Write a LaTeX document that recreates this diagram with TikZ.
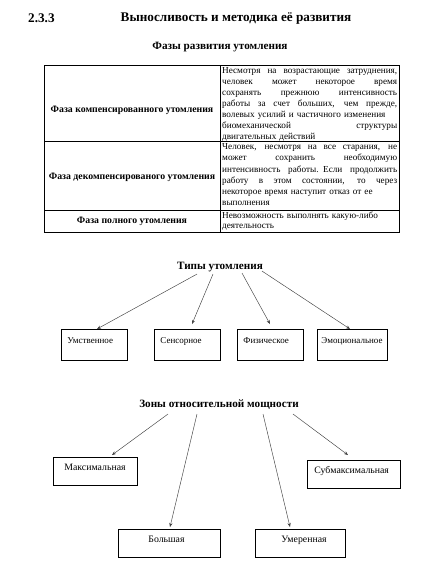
\documentclass[tikz,border=0pt]{standalone}
\usepackage{fontspec}
\setmainfont{Liberation Serif}
\usetikzlibrary{arrows.meta,calc}
\newcommand{\jl}[1]{\leavevmode\hbox to 175pt{\spaceskip=0.2em plus 1fil\relax #1}}
\begin{document}
\begin{tikzpicture}[x=1pt,y=-1pt,
  heading/.style={font=\bfseries\fontsize{13.2}{15}\selectfont,inner sep=0pt},
  subhead/.style={font=\bfseries\fontsize{11.2}{13}\selectfont,inner sep=0pt},
  celltext/.style={font=\fontsize{9.2}{11}\selectfont,inner sep=0pt,anchor=north west,align=left,text width=176pt},
  phase/.style={font=\bfseries\fontsize{9.8}{11}\selectfont,inner sep=0pt},
  grid/.style={draw=black,line width=0.8pt},
  typebox/.style={draw=black,line width=0.8pt,anchor=north west,inner xsep=6pt,inner ysep=0pt,
     align=left,font=\fontsize{9}{10}\selectfont,text height=13.8pt,text depth=17.2pt},
  zonebox/.style={draw=black,line width=0.8pt,anchor=north west,inner ysep=0pt,
     align=left,font=\fontsize{9.8}{10}\selectfont,text height=12.8pt,text depth=15.2pt},
  arr/.style={draw=black!75,line width=0.45pt,-{Stealth[length=4pt,width=3.2pt]}}]
\useasboundingbox (0,0) rectangle (429,571);
\fill[white] (0,0) rectangle (429,571);

% headings
\node[heading,anchor=west] (num) at (28,18) {2.3.3};
\node[heading] (title) at (236,18) {Выносливость и методика её развития};
\node[subhead] (phases) at (220,47) {Фазы развития утомления};

% table grid
\draw[grid] (44,65) rectangle (399,232);
\draw[grid] (220,65) -- (220,232);
\draw[grid] (44,141) -- (399,141);
\draw[grid] (44,210) -- (399,210);

\node[phase] (p1) at (132,110) {Фаза компенсированного утомления};
\node[phase] (p2) at (132,177) {Фаза декомпенсированого утомления};
\node[phase] (p3) at (132,221) {Фаза полного утомления};

\node[celltext] (d1) at (222,67.5) {\jl{Несмотря на возрастающие затруднения,}\\
\jl{человек может некоторое время}\\
\jl{сохранять прежнюю интенсивность}\\
\jl{работы за счет больших, чем прежде,}\\
волевых усилий и частичного изменения\\
\jl{биомеханической структуры}\\
двигательных действий};
\node[celltext,font=\fontsize{9.2}{11.2}\selectfont] (d2) at (222,143.5) {\jl{Человек, несмотря на все старания, не}\\
\jl{может сохранить необходимую}\\
\jl{интенсивность работы. Если продолжить}\\
\jl{работу в этом состоянии, то через}\\
некоторое время наступит отказ от ее\\
выполнения};
\node[celltext,font=\fontsize{9.2}{9.8}\selectfont] (d3) at (222,212) {Невозможность выполнять какую-либо\\
деятельность};

% types of fatigue
\node[subhead] (types) at (220,267) {Типы утомления};
\node[typebox,text width=54pt] (t1) at (61,329) {Умственное};
\node[typebox,text width=54pt] (t2) at (154,329) {Сенсорное};
\node[typebox,text width=54pt] (t3) at (237,329) {Физическое};
\node[typebox,inner xsep=4pt,text width=62pt] (t4) at (317,329) {Эмоциональное};

\draw[arr] ($(types.south)+(-23,2)$) -- ($(t1.north west)+(36,0)$);
\draw[arr] ($(types.south)+(-7,2)$) -- ($(t2.north west)+(38,-5)$);
\draw[arr] ($(types.south)+(22,1)$) -- ($(t3.north west)+(33,-5)$);
\draw[arr] ($(types.south)+(42,-1)$) -- ($(t4.north west)+(33,0)$);

% zones of relative power
\node[subhead] (zones) at (219,405) {Зоны относительной мощности};
\node[zonebox,inner xsep=11pt,text width=62pt] (z1) at (53,457) {Максимальная};
\node[zonebox,inner xsep=7pt,text width=79pt] (z4) at (307,460) {Субмаксимальная};
\node[zonebox,inner xsep=30pt,text width=42pt] (z2) at (118,529) {Большая};
\node[zonebox,inner xsep=26pt,text width=38pt] (z3) at (255,529) {Умеренная};

\draw[arr] ($(zones.south)+(-51,4)$) -- ($(z1.north west)+(59,-2)$);
\draw[arr] ($(zones.south)+(-22,4)$) -- ($(z2.north west)+(52,-2)$);
\draw[arr] ($(zones.south)+(44,4)$) -- ($(z3.north west)+(35,-2)$);
\draw[arr] ($(zones.south)+(74,4)$) -- ($(z4.north west)+(41,-5)$);
\end{tikzpicture}
\end{document}
